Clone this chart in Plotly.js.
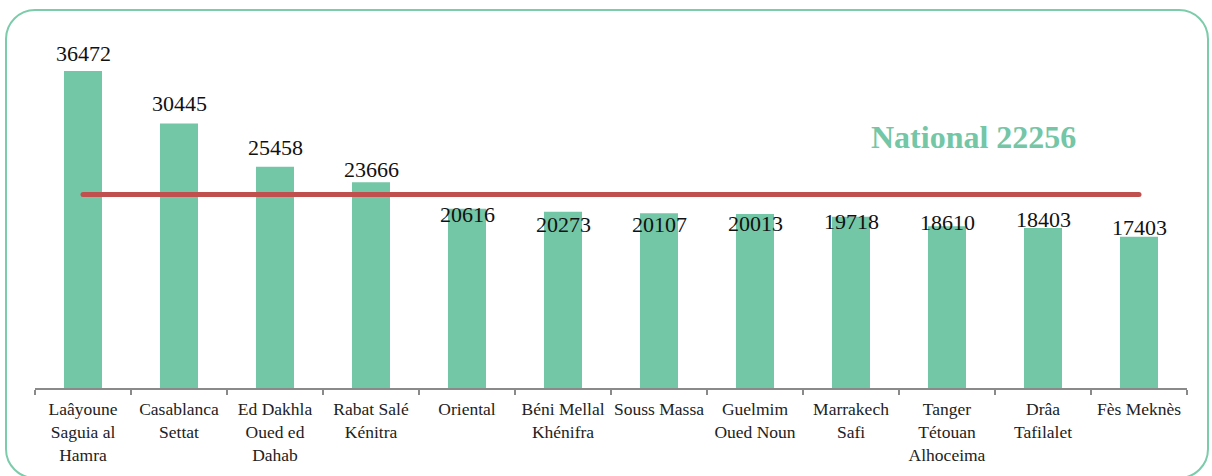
<!DOCTYPE html>
<html>
<head>
<meta charset="utf-8">
<script src="https://cdn.plot.ly/plotly-3.0.1.min.js"></script>
<style>
  html, body { margin: 0; padding: 0; background: #ffffff; }
  #wrap { position: relative; width: 1212px; height: 476px; overflow: hidden; }
  #chart { width: 1212px; height: 476px; }
  #frame {
    position: absolute; left: 5px; top: 9px; width: 1204px; height: 470px;
    border: 2px solid #7ccbab; border-radius: 30px; pointer-events: none; box-sizing: border-box;
  }
  .scatterlayer .js-line { stroke-linecap: round; }
</style>
</head>
<body>
<div id="wrap">
  <div id="chart"></div>
  <div id="frame"></div>
</div>
<script>
// ---- data ----
const categories = [
  "Laâyoune<br>Saguia al<br>Hamra",
  "Casablanca<br>Settat",
  "Ed Dakhla<br>Oued ed<br>Dahab",
  "Rabat Salé<br>Kénitra",
  "Oriental",
  "Béni Mellal<br>Khénifra",
  "Souss Massa",
  "Guelmim<br>Oued Noun",
  "Marrakech<br>Safi",
  "Tanger<br>Tétouan<br>Alhoceima",
  "Drâa<br>Tafilalet",
  "Fès Meknès"
];
const values = [36472, 30445, 25458, 23666, 20616, 20273, 20107, 20013, 19718, 18610, 18403, 17403];
const nationalValue = 22256;
const nationalName = "National";

// ---- presentation ----
const labelShift = [17.5, 20, 19, 13, -6, -12.4, -11.7, -9.6, -4.8, 3.4, 8.5, 9];
const barColor = "#73c6a6";
const lineColor = "#c0504d";
const serif = "Liberation Serif";

const bars = {
  type: "bar",
  x: categories,
  y: values,
  marker: { color: barColor },
  hoverinfo: "x+y"
};

const national = {
  type: "scatter",
  mode: "lines",
  x: categories,
  y: categories.map(() => nationalValue),
  line: { color: lineColor, width: 5 },
  hoverinfo: "skip"
};

const annotations = values.map((v, i) => ({
  x: categories[i],
  y: v,
  xref: "x",
  yref: "y",
  text: String(v),
  showarrow: false,
  yanchor: "middle",
  yshift: labelShift[i],
  font: { family: serif, size: 22, color: "#111111" }
}));

annotations.push({
  xref: "paper",
  yref: "paper",
  x: 0.815,
  y: 0.702,
  xanchor: "center",
  yanchor: "middle",
  showarrow: false,
  text: "<b>" + nationalName + " " + nationalValue + "</b>",
  font: { family: serif, size: 32, color: barColor }
});

const layout = {
  width: 1212,
  height: 476,
  margin: { l: 35, r: 25, t: 30, b: 88, pad: 0 },
  paper_bgcolor: "#ffffff",
  plot_bgcolor: "#ffffff",
  showlegend: false,
  font: { family: serif },
  bargap: 0.604,
  xaxis: {
    type: "category",
    tickson: "boundaries",
    ticks: "outside",
    ticklen: 5,
    tickwidth: 2,
    tickcolor: "#8a8a8a",
    tickangle: 0,
    ticklabelstandoff: 4,
    showline: true,
    linecolor: "#8a8a8a",
    linewidth: 2,
    showgrid: false,
    zeroline: false,
    tickfont: { family: serif, size: 17.5, color: "#222222" },
    fixedrange: true
  },
  yaxis: {
    visible: false,
    range: [0, 41200],
    showgrid: false,
    zeroline: false,
    fixedrange: true
  },
  annotations: annotations
};

Plotly.newPlot("chart", [bars, national], layout, { displayModeBar: false, staticPlot: true });
</script>
</body>
</html>
